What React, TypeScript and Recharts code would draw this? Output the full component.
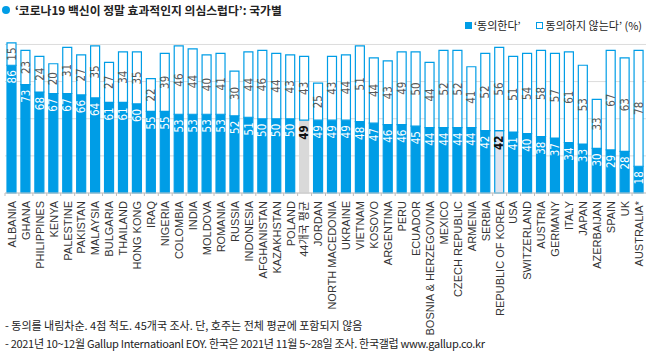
import React from 'react';
import { BarChart, Bar, XAxis, YAxis, CartesianGrid, Cell, LabelList } from 'recharts';

const categories = [
  'ALBANIA', 'GHANA', 'PHILIPPINES', 'KENYA', 'PALESTINE', 'PAKISTAN', 'MALAYSIA', 'BULGARIA',
  'THAILAND', 'HONG KONG', 'IRAQ', 'NIGERIA', 'COLOMBIA', 'INDIA', 'MOLDOVA', 'ROMANIA', 'RUSSIA',
  'INDONESIA', 'AFGHANISTAN', 'KAZAKHSTAN', 'POLAND', '44개국 평균', 'JORDAN', 'NORTH MACEDONIA',
  'UKRAINE', 'VIETNAM', 'KOSOVO', 'ARGENTINA', 'PERU', 'ECUADOR', 'BOSNIA & HERZEGOVINA', 'MEXICO',
  'CZECH REPUBLIC', 'ARMENIA', 'SERBIA', 'REPUBLIC OF KOREA', 'USA', 'SWITZERLAND', 'AUSTRIA',
  'GERMANY', 'ITALY', 'JAPAN', 'AZERBAIJAN', 'SPAIN', 'UK', 'AUSTRALIA*',
];

const agree = [
  86, 73, 68, 67, 67, 66, 64, 61, 61, 60, 55, 55, 53, 53, 53, 53, 52, 51, 50, 50, 50, 49, 49, 49,
  49, 48, 47, 46, 46, 45, 44, 44, 44, 44, 42, 42, 41, 40, 38, 37, 34, 33, 30, 29, 28, 18,
];

const disagree = [
  15, 23, 24, 20, 31, 27, 35, 27, 34, 35, 22, 39, 46, 44, 40, 41, 30, 44, 46, 44, 43, 43, 25, 43,
  44, 51, 44, 43, 49, 50, 44, 52, 52, 41, 52, 56, 51, 54, 58, 57, 61, 53, 33, 67, 63, 78,
];

const yTicks = [0, 25, 50, 75, 100];

const footnotes = [
  '- 동의를 내림차순. 4점 척도. 45개국 조사. 단, 호주는 전체 평균에 포함되지 않음',
  '- 2021년 10~12월 Gallup Internatioanl EOY. 한국은 2021년 11월 5~28일 조사. 한국갤럽 www.gallup.co.kr',
];

const BLUE = '#009de6';
const KR = "'Noto Sans CJK KR', 'Noto Sans', sans-serif";
const NARROW = "'Liberation Sans Narrow', 'DejaVu Sans Condensed', sans-serif";

// 평균, 한국 막대 강조
const highlight: Record<string, { fill: string; stroke: string }> = {
  '44개국 평균': { fill: '#d9d9d9', stroke: '#d9d9d9' },
  'REPUBLIC OF KOREA': { fill: '#dde4ef', stroke: BLUE },
};

const data = categories.map((name, i) => ({ name, agree: agree[i], disagree: disagree[i] }));

const PLOT_LEFT = 5;
const PLOT_WIDTH = 641;
const BAND = PLOT_WIDTH / categories.length;

const CountryTick = ({ x, y, payload }: any) => (
  <g>
    <line x1={x - BAND / 2} x2={x - BAND / 2} y1={y} y2={y + 3} stroke="#bfbfbf" />
    <text
      x={x}
      y={y + 8}
      transform={`rotate(-90, ${x}, ${y + 8})`}
      textAnchor="end"
      dy="0.35em"
      fontSize={11}
      fill="#333"
      fontFamily="'Liberation Sans', Arial, 'Noto Sans CJK KR', sans-serif"
    >
      {payload.value}
    </text>
  </g>
);

const AgreeLabel = (props: any) => {
  const { x, y, width, value, index } = props;
  const cx = x + width / 2;
  const ty = y + 5;
  const dark = highlight[categories[index]] !== undefined;
  return (
    <text
      x={cx}
      y={ty}
      transform={`rotate(-90, ${cx}, ${ty})`}
      textAnchor="end"
      dy="0.36em"
      fontSize={11.5}
      fontWeight={dark ? 700 : 400}
      fontFamily={NARROW}
      fill={dark ? '#111' : '#fff'}
    >
      {value}
    </text>
  );
};

const DisagreeLabel = (props: any) => {
  const { x, y, width, height, value } = props;
  const cx = x + width / 2;
  const cy = y + height / 2;
  return (
    <text
      x={cx}
      y={cy}
      transform={`rotate(-90, ${cx}, ${cy})`}
      textAnchor="middle"
      dy="0.36em"
      fontSize={11.5}
      fontFamily={NARROW}
      fill="#595959"
    >
      {value}
    </text>
  );
};

const App: React.FC = () => {
  return (
    <div style={{ position: 'absolute', left: 0, top: 0, width: 646, height: 356, background: '#fff' }}>
      <div style={{ position: 'absolute', left: 2, top: 6, width: 8, height: 8, borderRadius: '50%', background: BLUE }} />
      <div
        style={{
          position: 'absolute', left: 15, top: 1, lineHeight: '18px', fontSize: 11.8,
          fontWeight: 700, fontFamily: KR, color: '#222', whiteSpace: 'nowrap',
        }}
      >
        ‘코로나19 백신이 정말 효과적인지 의심스럽다’: 국가별
      </div>

      <div
        style={{
          position: 'absolute', left: 465, top: 17, display: 'flex', alignItems: 'center',
          fontSize: 11, lineHeight: '16px', fontFamily: KR, color: '#222', whiteSpace: 'nowrap',
        }}
      >
        <span style={{ width: 7, height: 7, background: BLUE, display: 'inline-block', marginRight: 2 }} />
        <span>‘동의한다’</span>
        <span style={{ width: 5, height: 5, border: `1px solid ${BLUE}`, display: 'inline-block', marginLeft: 15, marginRight: 3 }} />
        <span>동의하지 않는다’ (%)</span>
      </div>

      <BarChart
        width={646}
        height={356}
        data={data}
        margin={{ top: 40, right: 0, left: PLOT_LEFT, bottom: 0 }}
        barSize={9}
      >
        <CartesianGrid vertical={false} stroke="#dcdcdc" horizontalValues={yTicks} />
        <XAxis
          dataKey="name"
          interval={0}
          height={163}
          tickLine={false}
          tickSize={0}
          tickMargin={0}
          axisLine={{ stroke: '#c8c8c8' }}
          tick={<CountryTick />}
        />
        <YAxis hide domain={[0, 103]} ticks={yTicks} />
        <Bar dataKey="agree" stackId="a" fill={BLUE} stroke={BLUE} strokeWidth={1.2} isAnimationActive={false}>
          {data.map((d) => (
            <Cell
              key={d.name}
              fill={highlight[d.name]?.fill ?? BLUE}
              stroke={highlight[d.name]?.stroke ?? BLUE}
            />
          ))}
          <LabelList dataKey="agree" content={<AgreeLabel />} />
        </Bar>
        <Bar dataKey="disagree" stackId="a" fill="#fff" stroke={BLUE} strokeWidth={1.2} isAnimationActive={false}>
          <LabelList dataKey="disagree" content={<DisagreeLabel />} />
        </Bar>
      </BarChart>

      {footnotes.map((t, i) => (
        <div
          key={i}
          style={{
            position: 'absolute', left: 5, top: 316 + i * 18, lineHeight: '18px', fontSize: 11,
            letterSpacing: i === 1 ? -0.3 : 0, fontFamily: KR, color: '#222', whiteSpace: 'nowrap',
          }}
        >
          {t}
        </div>
      ))}
    </div>
  );
};

export default App;
